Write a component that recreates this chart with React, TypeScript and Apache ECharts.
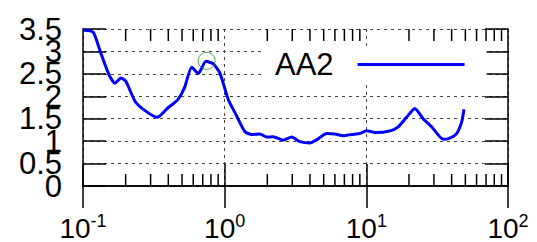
import React, { useEffect, useRef } from 'react';
import * as echarts from 'echarts';

const freq = [0.1005, 0.118, 0.132, 0.153, 0.168, 0.185, 0.201, 0.233, 0.274, 0.334, 0.4, 0.466, 0.519, 0.585, 0.652, 0.738, 0.832, 0.927, 1.06, 1.18, 1.39, 1.55, 1.77, 1.98, 2.2, 2.59, 2.97, 3.4, 4.0, 4.46, 5.25, 6.0, 6.87, 7.87, 9.01, 10.05, 11.8, 14.7, 16.8, 19.2, 22.0, 25.2, 28.9, 34.9, 38.9, 43.4, 47.1, 48.9];
const amp = [3.48, 3.43, 3.01, 2.47, 2.29, 2.41, 2.33, 1.89, 1.68, 1.53, 1.75, 1.92, 2.18, 2.65, 2.51, 2.78, 2.72, 2.51, 1.93, 1.64, 1.21, 1.15, 1.16, 1.09, 1.1, 1.02, 1.09, 0.99, 0.96, 1.03, 1.17, 1.16, 1.12, 1.15, 1.17, 1.23, 1.19, 1.23, 1.32, 1.53, 1.73, 1.5, 1.32, 1.04, 1.07, 1.17, 1.43, 1.71];
const markerFreq = [0.746];
const markerAmp = [2.79];
const seriesName = 'AA2';
const xExponents = [-1, 0, 1, 2];
const yMin = 0;
const yMax = 3.5;
const yStep = 0.5;
const minorTickValues = [0.2, 0.3, 0.4, 0.5, 0.6, 0.7, 0.8, 0.9, 2, 3, 4, 5, 6, 7, 8, 9, 20, 30, 40, 50, 60, 70, 80, 90];

const FONT = 'Liberation Sans';

export default function App() {
  const ref = useRef<HTMLDivElement>(null);
  useEffect(() => {
    if (!ref.current) return;
    const chart = echarts.init(ref.current, undefined, { renderer: 'svg' });
    const xMin = Math.pow(10, xExponents[0]);
    const xMax = Math.pow(10, xExponents[xExponents.length - 1]);
    const axisLine = { show: true, lineStyle: { color: '#000', width: 1.5 } };
    const gridLine = { show: true, lineStyle: { color: '#444', width: 1, type: [3, 4] as any } };
    const tickStyle = { color: '#000', width: 1.5 };
    const yLabelBase = {
      margin: 21,
      fontSize: 31,
      fontFamily: FONT,
      color: '#000',
      showMinLabel: true,
      showMaxLabel: true,
      hideOverlap: false,
    };
    const isEven = (v: number) => Math.round(v / yStep) % 2 === 0;
    chart.setOption({
      animation: false,
      backgroundColor: '#fff',
      grid: { left: 83, right: 29, top: 29, bottom: 51, show: false },
      legend: {
        data: [seriesName],
        left: 263,
        top: 49,
        align: 'right',
        icon: 'rect',
        itemWidth: 107,
        itemHeight: 3,
        padding: [0, 22, 4, 12],
        backgroundColor: '#fff',
        textStyle: { fontSize: 31, fontFamily: FONT, color: '#000', lineHeight: 31, padding: [0, 19, 0, 0] },
      },
      xAxis: [
        {
          type: 'log',
          logBase: 10,
          min: xMin,
          max: xMax,
          position: 'bottom',
          axisLine,
          axisTick: { show: true, inside: true, length: 22, lineStyle: tickStyle },
          splitLine: gridLine,
          minorTick: { show: false },
          axisLabel: {
            margin: 26,
            showMinLabel: true,
            showMaxLabel: true,
            hideOverlap: false,
            formatter: (v: number) => `{b|10}{s|${Math.round(Math.log10(v))}}`,
            rich: {
              b: { fontSize: 28, fontFamily: FONT, color: '#000' },
              s: { fontSize: 18, fontFamily: FONT, color: '#000', padding: [0, 0, 14, 0] },
            },
          },
        },
        {
          type: 'log',
          logBase: 10,
          min: xMin,
          max: xMax,
          position: 'top',
          axisLine,
          axisTick: { show: true, inside: true, length: 22, lineStyle: tickStyle },
          splitLine: { show: false },
          axisLabel: { show: false },
        },
      ],
      yAxis: [
        {
          type: 'value',
          min: yMin,
          max: yMax,
          interval: yStep,
          position: 'left',
          axisLine,
          axisTick: { show: true, inside: true, length: 23, lineStyle: tickStyle },
          splitLine: gridLine,
          axisLabel: { ...yLabelBase, formatter: (v: number) => (isEven(v) ? String(v) : '') },
        },
        {
          type: 'value',
          min: yMin,
          max: yMax,
          interval: yStep,
          position: 'right',
          axisLine,
          axisTick: { show: true, inside: true, length: 23, lineStyle: tickStyle },
          splitLine: { show: false },
          axisLabel: { show: false },
        },
        {
          type: 'value',
          min: yMin,
          max: yMax,
          interval: yStep,
          position: 'left',
          offset: 0,
          axisLine: { show: false },
          axisTick: { show: false },
          splitLine: { show: false },
          axisLabel: { ...yLabelBase, formatter: (v: number) => (isEven(v) ? '' : String(v)) },
        },
      ],
      series: [
        {
          type: 'custom',
          silent: true,
          clip: false,
          xAxisIndex: 0,
          yAxisIndex: 0,
          data: minorTickValues.map((v) => [v, yMin]),
          renderItem: (_params: any, api: any) => {
            const x = api.value(0);
            const b = api.coord([x, yMin]);
            const t = api.coord([x, yMax]);
            const style = { stroke: '#000', lineWidth: 1.5 };
            return {
              type: 'group',
              children: [
                { type: 'line', shape: { x1: b[0], y1: b[1], x2: b[0], y2: b[1] - 12 }, style },
                { type: 'line', shape: { x1: t[0], y1: t[1], x2: t[0], y2: t[1] + 12 }, style },
              ],
            };
          },
        },
        {
          name: seriesName,
          type: 'line',
          xAxisIndex: 0,
          yAxisIndex: 0,
          symbol: 'none',
          smooth: 0.2,
          lineStyle: { color: '#0000ff', width: 3 },
          itemStyle: { color: '#0000ff' },
          data: freq.map((f, i) => [f, amp[i]]),
          z: 3,
        },
        {
          type: 'scatter',
          xAxisIndex: 0,
          yAxisIndex: 0,
          symbol: 'circle',
          symbolSize: 17,
          itemStyle: { color: 'rgba(0,0,0,0)', borderColor: '#1f8f1f', borderWidth: 1 },
          data: markerFreq.map((f, i) => [f, markerAmp[i]]),
          z: 4,
        },
      ],
    });
    return () => chart.dispose();
  }, []);
  return <div ref={ref} style={{ position: 'fixed', left: 0, top: 0, width: 537, height: 242 }} />;
}
